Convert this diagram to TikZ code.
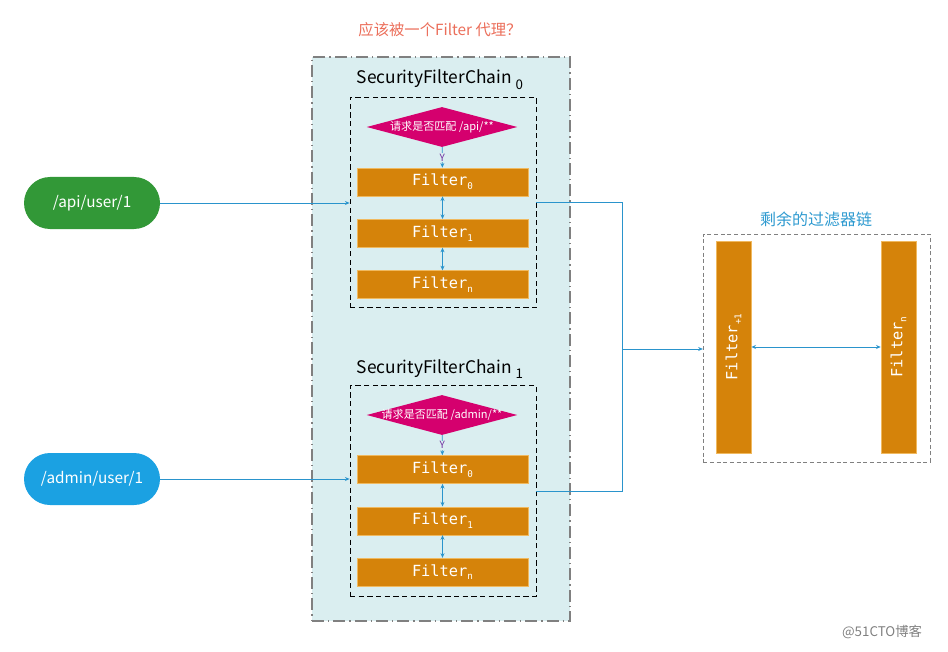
\documentclass[tikz,border=0pt]{standalone}
\usepackage{fontspec}
\newfontfamily\cjk{Noto Sans CJK SC}
\newfontfamily\filterfont{DejaVu Sans Mono}
\usetikzlibrary{positioning,shapes.geometric,arrows.meta}

\definecolor{chainbg}{RGB}{218,238,240}
\definecolor{regionline}{RGB}{128,128,128}
\definecolor{filterfill}{RGB}{213,131,10}
\definecolor{filteredge}{RGB}{240,185,95}
\definecolor{matchfill}{RGB}{213,0,110}
\definecolor{yesviolet}{RGB}{112,48,160}
\definecolor{flowblue}{RGB}{42,148,204}
\definecolor{apigreen}{RGB}{50,152,55}
\definecolor{adminblue}{RGB}{27,161,226}
\definecolor{asksalmon}{RGB}{235,110,90}
\definecolor{restblue}{RGB}{46,154,208}

\newcommand{\fsub}[1]{\raisebox{-0.45ex}{\fontsize{7pt}{7pt}\selectfont #1}}
\newcommand{\csub}[1]{\raisebox{-0.6ex}{\fontsize{10pt}{10pt}\selectfont #1}}

\tikzset{
	region/.style={draw=regionline, fill=chainbg, line width=1.3pt,
		dash pattern=on 9pt off 3pt on 1pt off 3pt,
		minimum width=193.5pt, minimum height=423pt},
	chainbox/.style={draw=black, line width=0.6pt, dash pattern=on 4pt off 2.5pt,
		minimum width=139.5pt, minimum height=158pt},
	chaintitle/.style={font=\cjk\fontsize{13pt}{15pt}\selectfont},
	match/.style={diamond, fill=matchfill, inner sep=0pt, minimum width=113pt,
		minimum height=30pt, text=white, font=\cjk\fontsize{8.3pt}{9pt}\selectfont},
	filter/.style={fill=filterfill, draw=filteredge, line width=0.5pt,
		minimum width=128pt, minimum height=21pt, inner sep=0pt,
		text=white, font=\filterfont\fontsize{11.5pt}{13pt}\selectfont},
	bar/.style={filter, rotate=90, minimum width=159pt, minimum height=26.25pt},
	pill/.style={rounded corners=19.5pt, minimum width=102pt, minimum height=39pt,
		text=white, font=\cjk\fontsize{11.5pt}{13pt}\selectfont},
	restbox/.style={draw=regionline, line width=0.5pt, dash pattern=on 3pt off 2pt,
		minimum width=170pt, minimum height=171pt},
	yes/.style={fill=chainbg, inner sep=0.5pt, text=yesviolet,
		font=\cjk\fontsize{7.5pt}{8pt}\selectfont},
	line/.style={draw=flowblue, line width=0.6pt},
	flow/.style={line, -{Stealth[length=3.5pt,width=3pt]}},
	both/.style={line, {Stealth[length=3.5pt,width=3pt]}-{Stealth[length=3.5pt,width=3pt]}},
	wm/.style={text=regionline, font=\cjk\fontsize{10pt}{12pt}\selectfont}
}

\begin{document}
\begin{tikzpicture}[x=0.75pt, y=-0.75pt, node distance=17pt]
	\useasboundingbox (0,0) rectangle (948,652);

	\node[region] (sfc) at (441,339) {};
	\node[text=asksalmon, font=\cjk\fontsize{11.5pt}{13pt}\selectfont] (ask) at (440,30) {应该被一个Filter 代理？};

	\node[chaintitle] (t0) at (440,80) {SecurityFilterChain \csub{0}};
	\node[chainbox] (c0) at (443,202.5) {};
	\node[match] (m0) at (442,127) {\makebox[0pt]{请求是否匹配 /api/**}};
	\node[filter] (f00) at (442.5,182) {Filter\fsub{0}};
	\node[filter, below=of f00] (f01) {Filter\fsub{1}};
	\node[filter, below=of f01] (f0n) {Filter\fsub{n}};

	\node[chaintitle] (t1) at (440,369) {SecurityFilterChain \csub{1}};
	\node[chainbox] (c1) at (443,491) {};
	\node[match] (m1) at (442,415) {\makebox[0pt]{请求是否匹配 /admin/**}};
	\node[filter] (f10) at (442.5,469.5) {Filter\fsub{0}};
	\node[filter, below=of f10] (f11) {Filter\fsub{1}};
	\node[filter, below=of f11] (f1n) {Filter\fsub{n}};

	\node[pill, fill=apigreen] (api) at (92,203) {/api/user/1};
	\node[pill, fill=adminblue] (admin) at (92,479) {/admin/user/1};

	\node[restbox] (rest) at (816.5,348) {};
	\node[text=restblue, font=\cjk\fontsize{12pt}{14pt}\selectfont] (rt) at (816,219) {剩余的过滤器链};
	\node[bar] (r1) at (733.5,347) {Filter\fsub{+1}};
	\node[bar] (rn) at (898.5,347) {Filter\fsub{n}};

	\node[wm] (wmk) at (882,632) {@51CTO博客};

	\coordinate (j) at (622,349);

	\draw[flow] (m0) -- node[yes]{Y} (f00);
	\draw[both] (f00) -- (f01);
	\draw[both] (f01) -- (f0n);
	\draw[flow] (m1) -- node[yes]{Y} (f10);
	\draw[both] (f10) -- (f11);
	\draw[both] (f11) -- (f1n);

	\draw[flow] (api) -- (api -| c0.west);
	\draw[flow] (admin) -- (admin -| c1.west);
	\draw[line] (c0.east) -| (j);
	\draw[line] (c1.east) -| (j);
	\draw[flow] (j) -- (j -| rest.west);
	\draw[both] (r1) -- (rn);
\end{tikzpicture}
\end{document}
